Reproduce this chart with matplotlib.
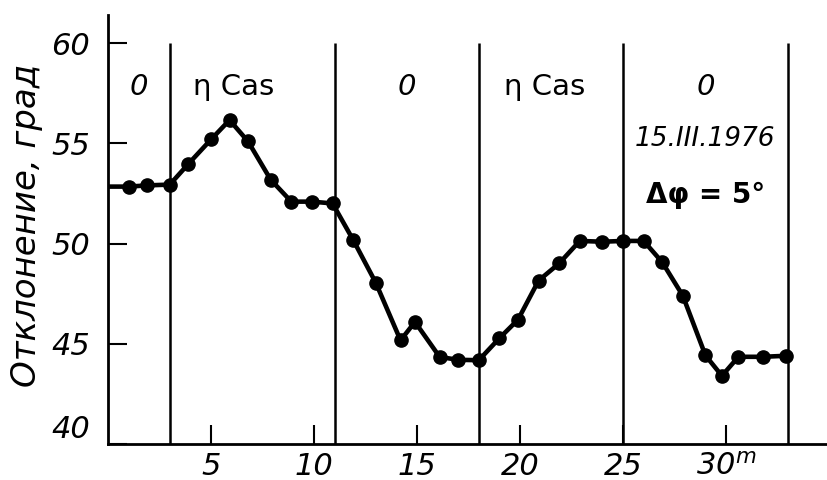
import matplotlib
matplotlib.use('Agg')
import matplotlib.pyplot as plt

# time (minutes) and pointing deviation (degrees)
t = [0, 1.0, 1.9, 3.0, 3.9, 5.0, 5.9, 6.8, 7.9, 8.9, 9.9, 10.9, 11.9,
     13.0, 14.2, 14.9, 16.1, 17.0, 18.0, 19.0, 19.9, 20.9, 21.9, 22.9,
     24.0, 25.0, 26.0, 26.9, 27.9, 29.0, 29.8, 30.6, 31.8, 32.9]
dev = [52.84, 52.84, 52.9, 52.94, 53.97, 55.19, 56.16, 55.09, 53.18, 52.09,
       52.09, 52.0, 50.18, 48.04, 45.17, 46.09, 44.34, 44.2, 44.18, 45.28,
       46.2, 48.15, 49.01, 50.13, 50.09, 50.13, 50.13, 49.07, 47.4, 44.42,
       43.4, 44.35, 44.35, 44.4]

bounds = [3, 11, 18, 25, 33]
zone_x = [1.5, 6.1, 14.5, 21.2, 29.0]
zone_txt = ['0', 'η Cas', '0', 'η Cas', '0']

xticks = [5, 10, 15, 20, 25, 30]
xlabels = ['5', '10', '15', '20', '25', '30$^m$']
yticks = [40, 45, 50, 55, 60]

fig = plt.figure(figsize=(8.27, 4.8), dpi=100)
ax = fig.add_axes([108/827, 1 - 444/480, 1 - 108/827, (444 - 15)/480])

ax.vlines(bounds, 40, 60, color='black', lw=1.8)
ax.plot(t, dev, color='black', lw=3.3, marker='o', ms=9.5,
        markevery=list(range(1, len(t))), solid_joinstyle='round')

for x, s in zip(zone_x, zone_txt):
    st = 'italic' if s == '0' else 'normal'
    ax.text(x, 57.8, s, ha='center', va='center', fontsize=21, style=st)

ax.text(29.0, 55.2, '15.III.1976', ha='center', va='center', fontsize=19, style='italic')
ax.text(29.0, 52.4, 'Δφ = 5°', ha='center', va='center', fontsize=20, weight='bold')

ax.set_xlim(0, 34.9)
ax.set_ylim(40, 61.4)
ax.set_xticks(xticks)
ax.set_xticklabels(xlabels, fontsize=22, style='italic')
ax.set_yticks(yticks)
ax.set_yticklabels([str(v) for v in yticks], fontsize=22, style='italic')
ax.get_yticklabels()[0].set_va('bottom')
ax.tick_params(direction='in', length=13.5, width=1.5)
ax.tick_params(axis='x', pad=6)
ax.tick_params(axis='y', pad=13)

for side in ['top', 'right']:
    ax.spines[side].set_visible(False)
for side in ['left', 'bottom']:
    ax.spines[side].set_linewidth(2)

fig.text(27/827, 1 - 225/480, 'Отклонение, град', rotation=90, ha='center',
         va='center', fontsize=24.5, style='italic')

fig.savefig('out.png', dpi=100)
